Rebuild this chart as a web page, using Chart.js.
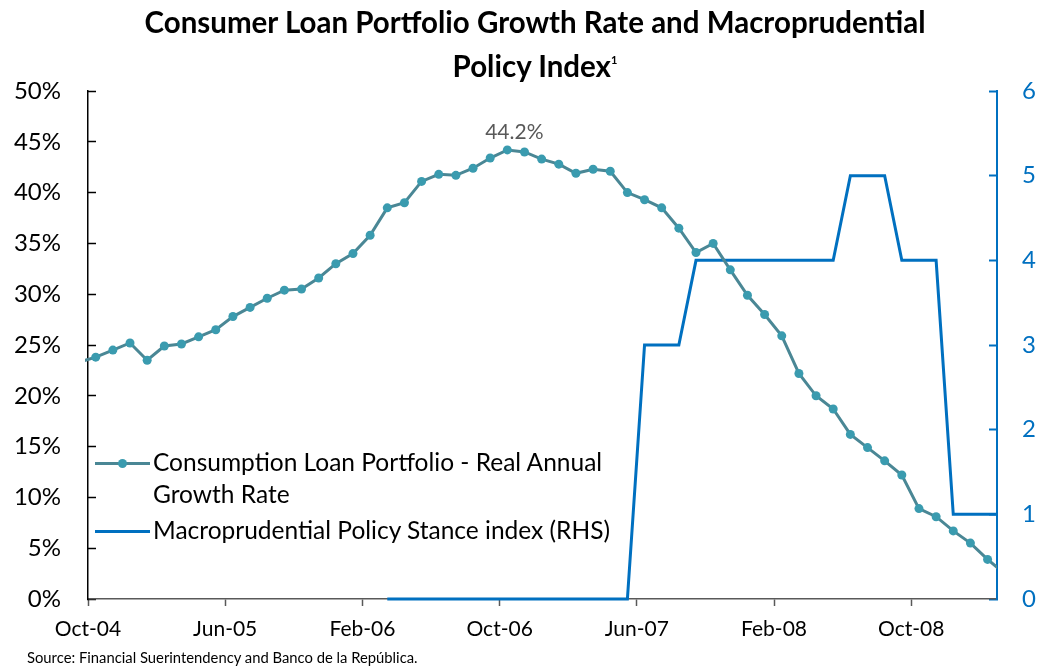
<!DOCTYPE html>
<html>
<head>
<meta charset="utf-8">
<script src="https://cdn.jsdelivr.net/npm/chart.js@4.4.1/dist/chart.umd.min.js"></script>
<style>
  body { margin: 0; background: #fff; font-family: Lato, sans-serif; }
  #wrap { position: relative; width: 1038px; height: 666px; }
  #c { position: absolute; left: 0; top: 0; }
  #title { position: absolute; left: 32px; top: 0; width: 1006px; text-align: center;
           font-weight: bold; font-size: 29.5px; line-height: 44px; color: #000; }
  #title sup { font-size: 11px; position: relative; top: -6px; vertical-align: top; }
  #source { position: absolute; left: 27px; top: 649px; font-size: 14.8px; line-height: 16px; color: #000; }
  #legend { position: absolute; left: 95px; top: 446px; font-size: 24.5px; color: #000; }
  .item { display: flex; align-items: flex-start; margin-bottom: 4px; }
  .sw { position: relative; width: 55px; height: 32px; margin-right: 3px; flex: none; }
  .sw b { position: absolute; left: 0; right: 0; top: 16px; height: 3px; }
  .sw i { position: absolute; left: 23px; top: 13px; width: 9px; height: 9px; border-radius: 50%; }
  .txt { line-height: 32px; width: 490px; }
</style>
</head>
<body>
<div id="wrap">
  <canvas id="c" width="1038" height="666"></canvas>
  <div id="title">Consumer Loan Portfolio Growth Rate and Macroprudential<br>Policy Index<sup>1</sup></div>
  <div id="legend"></div>
  <div id="source">Source: Financial Suerintendency and Banco de la República.</div>
</div>
<script>
// monthly data, Sep-04 .. Apr-09 (first and last month fall just outside the axis)
const months = ['Sep-04','Oct-04','Nov-04','Dec-04','Jan-05','Feb-05','Mar-05','Apr-05','May-05','Jun-05','Jul-05','Aug-05',
  'Sep-05','Oct-05','Nov-05','Dec-05','Jan-06','Feb-06','Mar-06','Apr-06','May-06','Jun-06','Jul-06','Aug-06',
  'Sep-06','Oct-06','Nov-06','Dec-06','Jan-07','Feb-07','Mar-07','Apr-07','May-07','Jun-07','Jul-07','Aug-07',
  'Sep-07','Oct-07','Nov-07','Dec-07','Jan-08','Feb-08','Mar-08','Apr-08','May-08','Jun-08','Jul-08','Aug-08',
  'Sep-08','Oct-08','Nov-08','Dec-08','Jan-09','Feb-09','Mar-09','Apr-09'];

const growth = [23.3, 23.8, 24.5, 25.2, 23.5, 24.9, 25.1, 25.8, 26.5, 27.8, 28.7, 29.6,
  30.4, 30.5, 31.6, 33.0, 34.0, 35.8, 38.5, 39.0, 41.1, 41.8, 41.7, 42.4,
  43.4, 44.2, 44.0, 43.3, 42.8, 41.9, 42.3, 42.1, 40.0, 39.3, 38.5, 36.5,
  34.1, 35.0, 32.4, 29.9, 28.0, 25.9, 22.2, 20.0, 18.7, 16.2, 14.9, 13.6,
  12.2, 8.9, 8.1, 6.7, 5.5, 3.9, 2.5];

const policy = [null, null, null, null, null, null, null, null, null, null, null, null,
  null, null, null, null, null, null, 0, 0, 0, 0, 0, 0,
  0, 0, 0, 0, 0, 0, 0, 0, 0, 3, 3, 3,
  4, 4, 4, 4, 4, 4, 4, 4, 4, 5, 5, 5,
  4, 4, 4, 1, 1, 1, 1];

const tickLabels = ['Oct-04','Jun-05','Feb-06','Oct-06','Jun-07','Feb-08','Oct-08'];

const growthLabel = 'Consumption Loan Portfolio - Real Annual Growth Rate';
const policyLabel = 'Macroprudential Policy Stance index (RHS)';

// x = months since Oct-04, data sits mid-month
const toPoints = arr => arr.map((v, i) => ({ x: i - 1 + 0.45, y: v }));
const inside = ctx => (ctx.raw && ctx.raw.x >= 0 && ctx.raw.x <= 53) ? 4.5 : 0;

const peakLabel = {
  id: 'peakLabel',
  afterDatasetsDraw(chart) {
    const i = growth.indexOf(Math.max(...growth));
    const pt = chart.getDatasetMeta(0).data[i];
    const c = chart.ctx;
    c.save();
    c.font = '21px Lato';
    c.fillStyle = '#595959';
    c.textAlign = 'center';
    c.textBaseline = 'middle';
    c.fillText(growth[i].toFixed(1) + '%', pt.x + 7, pt.y - 18);
    c.restore();
  }
};

const chart = new Chart(document.getElementById('c'), {
  type: 'line',
  data: {
    datasets: [{
      label: growthLabel,
      data: toPoints(growth),
      yAxisID: 'y',
      borderColor: '#4A8795',
      borderWidth: 3,
      pointBackgroundColor: '#3A9BAF',
      pointBorderColor: '#3A9BAF',
      pointRadius: inside,
      pointBorderWidth: 0,
      tension: 0,
      clip: { left: 3, top: false, right: 0, bottom: false }
    }, {
      label: policyLabel,
      data: toPoints(policy),
      yAxisID: 'y1',
      borderColor: '#0070C0',
      borderWidth: 3,
      pointRadius: 0,
      tension: 0,
      clip: { left: 0, top: 5, right: 0, bottom: 5 }
    }]
  },
  options: {
    responsive: false,
    animation: false,
    events: [],
    layout: { padding: { top: 91, left: 0, right: 0, bottom: 0 } },
    plugins: { legend: { display: false }, tooltip: { enabled: false } },
    scales: {
      x: {
        type: 'linear', min: 0, max: 53, position: 'bottom',
        afterFit: s => { s.height = 67; },
        afterBuildTicks: s => { s.ticks = tickLabels.map((t, i) => ({ value: i * 8 })); },
        ticks: { callback: v => tickLabels[v / 8], font: { family: 'Lato', size: 21 }, color: '#000', padding: 11, maxRotation: 0, autoSkip: false },
        grid: { drawOnChartArea: false, tickLength: 7, color: '#595959', tickWidth: 1.5 },
        border: { color: '#595959', width: 1.5 }
      },
      y: {
        position: 'left', min: 0, max: 50,
        afterFit: s => { s.width = 88; },
        ticks: { stepSize: 5, callback: v => v + '%', font: { family: 'Lato', size: 24 }, color: '#000', padding: 35 },
        grid: { drawOnChartArea: false, tickLength: -8, color: '#000', tickWidth: 1.5 },
        border: { color: '#000', width: 1.5 }
      },
      y1: {
        position: 'right', min: 0, max: 6,
        afterFit: s => { s.width = 41; },
        ticks: { stepSize: 1, font: { family: 'Lato', size: 24 }, color: '#0070C0', padding: 33 },
        grid: { drawOnChartArea: false, tickLength: -8, color: '#0070C0', tickWidth: 2 },
        border: { color: '#0070C0', width: 2 }
      }
    }
  },
  plugins: [peakLabel]
});

// html legend built from the datasets
const legend = document.getElementById('legend');
chart.data.datasets.forEach((ds, i) => {
  const item = document.createElement('div');
  item.className = 'item';
  const dot = i === 0 ? '<i style="background:' + ds.pointBackgroundColor + '"></i>' : '';
  item.innerHTML = '<span class="sw"><b style="background:' + ds.borderColor + '"></b>' + dot + '</span>' +
    '<span class="txt">' + ds.label + '</span>';
  legend.appendChild(item);
});
</script>
</body>
</html>
